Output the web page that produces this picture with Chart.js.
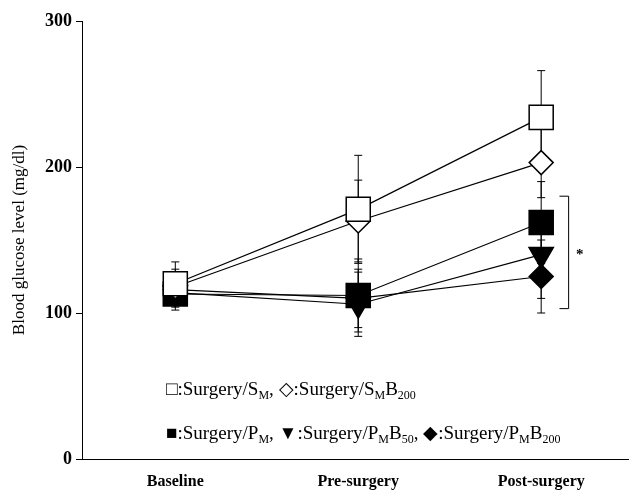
<!DOCTYPE html>
<html>
<head>
<meta charset="utf-8">
<script src="https://cdn.jsdelivr.net/npm/chart.js@4/dist/chart.umd.min.js"></script>
<style>
  html, body { margin: 0; padding: 0; background: #fff; overflow: hidden; }
  #wrap { width: 629px; height: 492px; }
  canvas { display: block; }
</style>
</head>
<body>
<div id="wrap"><canvas id="glucoseChart" width="629" height="492"></canvas></div>
<script>
// data
var categories = ["Baseline", "Pre-surgery", "Post-surgery"];
var yTicks = [0, 100, 200, 300];

var smMean = [120, 171, 234];
var smErr = [15, 37, 32];
var smb200Mean = [118, 163, 203];
var smb200Err = [12, 28, 24];
var pmMean = [113, 112, 162];
var pmErr = [11, 25, 28];
var pmb50Mean = [114, 106, 140];
var pmb50Err = [10, 22, 30];
var pmb200Mean = [116, 110, 125];
var pmb200Err = [10, 20, 25];

// significance bracket (post-surgery, P groups vs S groups)
var bracketRange = [103, 180];

var serif = "'Liberation Serif', 'Times New Roman', serif";

function toPoints(arr) {
  return arr.map(function(v, i) { return {x: i, y: v}; });
}

function series(label, mean, err, style, fill, radius, rot) {
  return {
    label: label,
    data: toPoints(mean),
    errors: err,
    borderColor: "#000",
    borderWidth: 1.2,
    pointStyle: style,
    pointRadius: radius,
    pointHoverRadius: radius,
    pointRotation: rot || 0,
    pointBackgroundColor: fill,
    pointBorderColor: "#000",
    pointBorderWidth: 1.5,
    showLine: true,
    tension: 0
  };
}

var errorBars = {
  id: "errorBars",
  beforeDatasetsDraw: function(chart) {
    var ctx = chart.ctx, y = chart.scales.y, x = chart.scales.x;
    ctx.save();
    ctx.strokeStyle = "#000";
    ctx.lineWidth = 1;
    chart.data.datasets.forEach(function(ds) {
      ds.data.forEach(function(p, i) {
        var px = x.getPixelForValue(p.x);
        var top = y.getPixelForValue(p.y + ds.errors[i]);
        var bot = y.getPixelForValue(p.y - ds.errors[i]);
        ctx.beginPath();
        ctx.moveTo(px, top); ctx.lineTo(px, bot);
        ctx.moveTo(px - 4, top); ctx.lineTo(px + 4, top);
        ctx.moveTo(px - 4, bot); ctx.lineTo(px + 4, bot);
        ctx.stroke();
      });
    });
    ctx.restore();
  }
};

var notes = {
  id: "notes",
  afterDraw: function(chart) {
    var ctx = chart.ctx, y = chart.scales.y, x = chart.scales.x;
    ctx.save();
    // bracket + star
    var bx = x.getPixelForValue(2.1), bx2 = x.getPixelForValue(2.15);
    var bt = y.getPixelForValue(bracketRange[1]), bb = y.getPixelForValue(bracketRange[0]);
    ctx.strokeStyle = "#000";
    ctx.lineWidth = 1;
    ctx.beginPath();
    ctx.moveTo(bx, bt); ctx.lineTo(bx2, bt); ctx.lineTo(bx2, bb); ctx.lineTo(bx, bb);
    ctx.stroke();
    ctx.fillStyle = "#000";
    ctx.font = "bold 15px " + serif;
    ctx.textAlign = "center";
    ctx.textBaseline = "middle";
    ctx.fillText("*", bx2 + 11, (bt + bb) / 2 + 3);

    // legend lines with subscripts
    var lines = [
      [["\u25A1:Surgery/S"], ["M", 1], [", \u25C7:Surgery/S"], ["M", 1], ["B"], ["200", 1]],
      [["\u25A0:Surgery/P"], ["M", 1], [", \u25BC:Surgery/P"], ["M", 1], ["B"], ["50", 1], [", \u25C6:Surgery/P"], ["M", 1], ["B"], ["200", 1]]
    ];
    var baseY = [395, 439];
    ctx.textAlign = "left";
    ctx.textBaseline = "alphabetic";
    lines.forEach(function(parts, li) {
      var cx = 166;
      parts.forEach(function(p) {
        ctx.font = p[1] ? "12px " + serif : "19px " + serif;
        ctx.fillText(p[0], cx, baseY[li] + (p[1] ? 4 : 0));
        cx += ctx.measureText(p[0]).width;
      });
    });
    ctx.restore();
  }
};

var ctx = document.getElementById("glucoseChart").getContext("2d");
new Chart(ctx, {
  type: "line",
  data: {
    datasets: [
      series("Surgery/SM", smMean, smErr, "rect", "#fff", 17),
      series("Surgery/SMB200", smb200Mean, smb200Err, "rectRot", "#fff", 12),
      series("Surgery/PM", pmMean, pmErr, "rect", "#000", 17),
      series("Surgery/PMB50", pmb50Mean, pmb50Err, "triangle", "#000", 14, 180),
      series("Surgery/PMB200", pmb200Mean, pmb200Err, "rectRot", "#000", 12)
    ]
  },
  options: {
    responsive: false,
    animation: false,
    devicePixelRatio: 1,
    layout: { autoPadding: false, padding: { top: 21, right: 0, left: 0, bottom: 0 } },
    plugins: { legend: { display: false }, tooltip: { enabled: false } },
    scales: {
      x: {
        type: "linear",
        min: -0.51,
        max: 2.48,
        afterBuildTicks: function(s) {
          s.ticks = categories.map(function(c, i) { return {value: i}; });
        },
        afterFit: function(s) {
          s.height = 33;
          s.paddingLeft = 0;
          s.paddingRight = 0;
        },
        ticks: {
          autoSkip: false,
          maxRotation: 0,
          padding: 5,
          color: "#000",
          font: { family: serif, size: 16, weight: "bold" },
          callback: function(v) { return categories[v]; }
        },
        grid: { display: false },
        border: { display: true, color: "#000", width: 1 }
      },
      y: {
        min: 0,
        max: 300,
        afterBuildTicks: function(s) {
          s.ticks = yTicks.map(function(v) { return {value: v}; });
        },
        afterFit: function(s) { s.width = 82; },
        ticks: {
          padding: 4,
          color: "#000",
          font: { family: serif, size: 18, weight: "bold" }
        },
        grid: { display: true, drawOnChartArea: false, drawTicks: true, tickLength: 6, color: "#000" },
        border: { display: true, color: "#000", width: 1 },
        title: {
          display: true,
          text: "Blood glucose level (mg/dl)",
          color: "#000",
          padding: { top: 9, bottom: 0 },
          font: { family: serif, size: 17 }
        }
      }
    }
  },
  plugins: [errorBars, notes]
});
</script>
</body>
</html>
